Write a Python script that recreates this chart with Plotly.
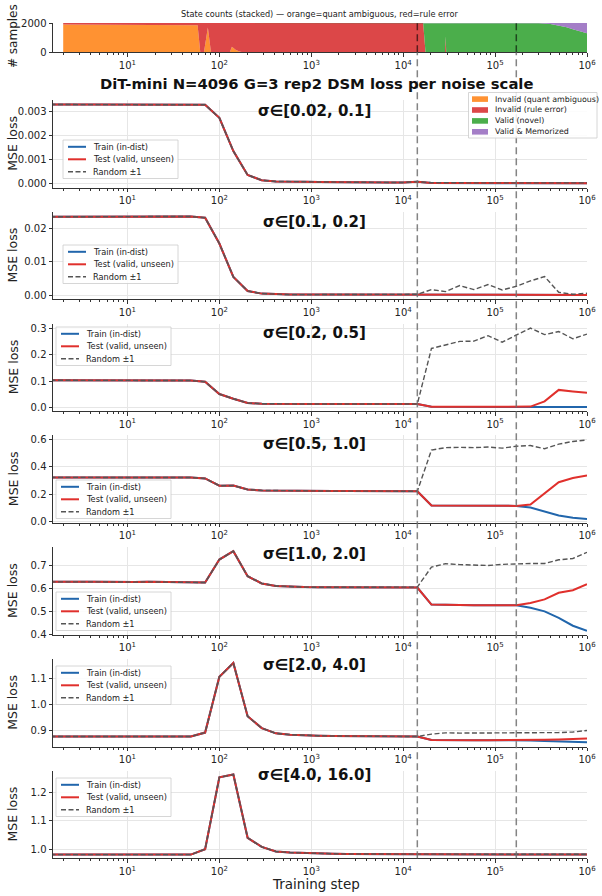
import plotly.graph_objects as go

W, H = 602, 896

# ---------------- data ----------------
steps = [1, 1.4, 2, 2.9, 4.1, 5.9, 8.4, 12, 17, 24, 35, 49, 70, 100, 142, 203, 289, 412, 588, 838,
         1194, 1701, 2424, 3455, 4924, 7017, 10000, 14251, 20309, 28943, 41246, 58780, 83768,
         119378, 170125, 242446, 345511, 492388, 701704, 1000000]

p1_train = [0.00329, 0.00328, 0.00328, 0.00328, 0.00328, 0.00328, 0.00328, 0.00328, 0.00328, 0.00328,
            0.00328, 0.00328, 0.00327, 0.00273, 0.00135, 0.00036, 0.00014, 0.00009, 0.00010, 0.00008,
            0.00007, 0.00006, 0.00006, 0.00005, 0.00005, 0.00005, 0.00005, 0.00008, 0.00003, 0.00002,
            0.00002, 0.00002, 0.00002, 0.00002, 0.00002, 0.00002, 0.00002, 0.00002, 0.00002, 0.00002]
p1_test = [0.00329, 0.00328, 0.00328, 0.00328, 0.00328, 0.00328, 0.00328, 0.00328, 0.00328, 0.00328,
           0.00328, 0.00328, 0.00327, 0.00273, 0.00135, 0.00036, 0.00014, 0.00009, 0.00010, 0.00008,
           0.00007, 0.00006, 0.00006, 0.00005, 0.00005, 0.00005, 0.00005, 0.00008, 0.00003, 0.00003,
           0.00002, 0.00002, 0.00002, 0.00002, 0.00002, 0.00002, 0.00002, 0.00002, 0.00002, 0.00002]
p1_rand = [0.00329, 0.00328, 0.00328, 0.00328, 0.00328, 0.00328, 0.00328, 0.00328, 0.00328, 0.00328,
           0.00328, 0.00328, 0.00327, 0.00273, 0.00135, 0.00036, 0.00014, 0.00009, 0.00010, 0.00008,
           0.00007, 0.00006, 0.00006, 0.00005, 0.00005, 0.00005, 0.00005, 0.00008, 0.00004, 0.00003,
           0.00003, 0.00003, 0.00003, 0.00003, 0.00003, 0.00003, 0.00003, 0.00003, 0.00003, 0.00003]

p2_train = [0.0235, 0.0235, 0.0235, 0.0235, 0.0235, 0.0235, 0.0235, 0.0235, 0.0235, 0.0235,
            0.0236, 0.0236, 0.0232, 0.0155, 0.0055, 0.0013, 0.0005, 0.0003, 0.0002, 0.0002,
            0.0002, 0.0002, 0.0002, 0.0002, 0.0002, 0.0002, 0.0001, 0.0003, 0.0001, 0.0001,
            0.0001, 0.0001, 0.0001, 0.0001, 0.0001, 0.0001, 0.0001, 0.0001, 0.0001, 0.0001]
p2_test = [0.0235, 0.0235, 0.0235, 0.0235, 0.0235, 0.0235, 0.0235, 0.0235, 0.0235, 0.0235,
           0.0236, 0.0236, 0.0232, 0.0155, 0.0055, 0.0013, 0.0005, 0.0003, 0.0002, 0.0002,
           0.0002, 0.0002, 0.0002, 0.0002, 0.0002, 0.0002, 0.0001, 0.0003, 0.0001, 0.0001,
           0.0001, 0.0001, 0.0001, 0.0001, 0.0001, 0.0001, 0.0001, 0.0001, 0.0001, 0.0001]
p2_rand = [0.0235, 0.0235, 0.0235, 0.0235, 0.0235, 0.0235, 0.0235, 0.0235, 0.0235, 0.0235,
           0.0236, 0.0236, 0.0232, 0.0155, 0.0055, 0.0013, 0.0005, 0.0003, 0.0002, 0.0002,
           0.0002, 0.0002, 0.0002, 0.0002, 0.0002, 0.0002, 0.0001, 0.0003, 0.0017, 0.0011,
           0.0029, 0.0017, 0.0032, 0.0016, 0.0027, 0.0043, 0.0056, 0.0009, 0.0003, 0.0006]

p3_train = [0.103, 0.103, 0.103, 0.103, 0.103, 0.103, 0.103, 0.103, 0.103, 0.103,
            0.103, 0.102, 0.097, 0.050, 0.032, 0.016, 0.013, 0.012, 0.012, 0.012,
            0.012, 0.012, 0.012, 0.012, 0.012, 0.012, 0.012, 0.012, 0.001, 0.001,
            0.001, 0.001, 0.001, 0.001, 0.001, 0.001, 0.001, 0.0008, 0.0005, 0.0003]
p3_test = [0.103, 0.103, 0.103, 0.103, 0.103, 0.103, 0.103, 0.103, 0.103, 0.103,
           0.103, 0.102, 0.097, 0.050, 0.032, 0.016, 0.013, 0.012, 0.012, 0.012,
           0.012, 0.012, 0.012, 0.012, 0.012, 0.012, 0.012, 0.012, 0.001, 0.001,
           0.001, 0.001, 0.001, 0.001, 0.001, 0.002, 0.022, 0.066, 0.060, 0.055]
p3_rand = [0.103, 0.103, 0.103, 0.103, 0.103, 0.103, 0.103, 0.103, 0.103, 0.103,
           0.103, 0.102, 0.097, 0.050, 0.032, 0.016, 0.013, 0.012, 0.012, 0.012,
           0.012, 0.012, 0.012, 0.012, 0.012, 0.012, 0.012, 0.012, 0.225, 0.238,
           0.252, 0.253, 0.274, 0.249, 0.276, 0.303, 0.278, 0.290, 0.262, 0.280]

p4_train = [0.323, 0.323, 0.323, 0.323, 0.323, 0.323, 0.323, 0.323, 0.323, 0.323,
            0.323, 0.322, 0.315, 0.262, 0.263, 0.234, 0.228, 0.226, 0.225, 0.224,
            0.224, 0.223, 0.223, 0.223, 0.222, 0.222, 0.222, 0.222, 0.118, 0.117,
            0.117, 0.116, 0.116, 0.115, 0.115, 0.103, 0.072, 0.045, 0.028, 0.020]
p4_test = [0.323, 0.323, 0.323, 0.323, 0.323, 0.323, 0.323, 0.323, 0.323, 0.323,
           0.323, 0.322, 0.315, 0.262, 0.263, 0.234, 0.228, 0.226, 0.225, 0.224,
           0.224, 0.223, 0.223, 0.223, 0.222, 0.222, 0.222, 0.222, 0.118, 0.117,
           0.117, 0.116, 0.116, 0.115, 0.115, 0.125, 0.205, 0.288, 0.318, 0.336]
p4_rand = [0.323, 0.323, 0.323, 0.323, 0.323, 0.323, 0.323, 0.323, 0.323, 0.323,
           0.323, 0.322, 0.315, 0.262, 0.263, 0.234, 0.228, 0.226, 0.225, 0.224,
           0.224, 0.223, 0.223, 0.223, 0.222, 0.222, 0.222, 0.222, 0.522, 0.540,
           0.542, 0.540, 0.544, 0.536, 0.550, 0.555, 0.532, 0.565, 0.585, 0.596]

p5_train = [0.630, 0.629, 0.629, 0.630, 0.630, 0.629, 0.630, 0.629, 0.630, 0.630,
            0.629, 0.629, 0.627, 0.728, 0.765, 0.655, 0.623, 0.612, 0.608, 0.607,
            0.606, 0.606, 0.606, 0.605, 0.605, 0.605, 0.605, 0.605, 0.530, 0.528,
            0.527, 0.527, 0.527, 0.527, 0.527, 0.516, 0.500, 0.472, 0.437, 0.415]
p5_test = [0.630, 0.629, 0.629, 0.630, 0.630, 0.629, 0.630, 0.629, 0.630, 0.630,
           0.629, 0.629, 0.627, 0.728, 0.765, 0.655, 0.623, 0.612, 0.608, 0.607,
           0.606, 0.606, 0.606, 0.605, 0.605, 0.605, 0.605, 0.605, 0.530, 0.528,
           0.527, 0.527, 0.527, 0.527, 0.527, 0.537, 0.553, 0.582, 0.593, 0.620]
p5_rand = [0.630, 0.629, 0.629, 0.630, 0.630, 0.629, 0.630, 0.629, 0.630, 0.630,
           0.629, 0.629, 0.627, 0.728, 0.765, 0.655, 0.623, 0.612, 0.608, 0.607,
           0.606, 0.606, 0.606, 0.605, 0.605, 0.605, 0.605, 0.607, 0.695, 0.710,
           0.706, 0.705, 0.702, 0.707, 0.710, 0.711, 0.711, 0.727, 0.733, 0.760]

p6_train = [0.878, 0.878, 0.878, 0.878, 0.878, 0.878, 0.878, 0.878, 0.878, 0.878,
            0.878, 0.878, 0.893, 1.105, 1.158, 0.955, 0.910, 0.890, 0.885, 0.882,
            0.881, 0.880, 0.880, 0.879, 0.879, 0.878, 0.878, 0.878, 0.865, 0.864,
            0.864, 0.864, 0.864, 0.864, 0.865, 0.863, 0.861, 0.859, 0.857, 0.856]
p6_test = [0.878, 0.878, 0.878, 0.878, 0.878, 0.878, 0.878, 0.878, 0.878, 0.878,
           0.878, 0.878, 0.893, 1.105, 1.158, 0.955, 0.910, 0.890, 0.885, 0.882,
           0.881, 0.880, 0.880, 0.879, 0.879, 0.878, 0.878, 0.878, 0.865, 0.864,
           0.864, 0.864, 0.864, 0.864, 0.865, 0.865, 0.866, 0.867, 0.868, 0.870]
p6_rand = [0.878, 0.878, 0.878, 0.878, 0.878, 0.878, 0.878, 0.878, 0.878, 0.878,
           0.878, 0.878, 0.893, 1.105, 1.158, 0.955, 0.910, 0.890, 0.885, 0.882,
           0.881, 0.880, 0.880, 0.879, 0.879, 0.878, 0.878, 0.878, 0.887, 0.892,
           0.891, 0.891, 0.892, 0.892, 0.892, 0.892, 0.892, 0.893, 0.895, 0.901]

p7_train = [0.981, 0.981, 0.981, 0.981, 0.981, 0.981, 0.981, 0.981, 0.981, 0.981,
            0.981, 0.981, 1.000, 1.252, 1.262, 1.040, 1.008, 0.992, 0.988, 0.986,
            0.985, 0.984, 0.983, 0.983, 0.982, 0.982, 0.982, 0.982, 0.981, 0.981,
            0.981, 0.981, 0.981, 0.981, 0.981, 0.981, 0.981, 0.981, 0.981, 0.981]
p7_test = [0.981, 0.981, 0.981, 0.981, 0.981, 0.981, 0.981, 0.981, 0.981, 0.981,
           0.981, 0.981, 1.000, 1.252, 1.262, 1.040, 1.008, 0.992, 0.988, 0.986,
           0.985, 0.984, 0.983, 0.983, 0.982, 0.982, 0.982, 0.982, 0.981, 0.981,
           0.981, 0.981, 0.981, 0.981, 0.981, 0.981, 0.981, 0.981, 0.981, 0.981]
p7_rand = [0.981, 0.981, 0.981, 0.981, 0.981, 0.981, 0.981, 0.981, 0.981, 0.981,
           0.981, 0.981, 1.000, 1.252, 1.262, 1.040, 1.008, 0.992, 0.988, 0.986,
           0.985, 0.984, 0.983, 0.983, 0.982, 0.982, 0.982, 0.982, 0.982, 0.982,
           0.982, 0.982, 0.982, 0.982, 0.982, 0.982, 0.982, 0.982, 0.982, 0.982]

# stacked state counts (top strip)
state_steps = [2, 4, 5, 8, 11, 17, 24, 34, 49, 58, 62, 68, 75, 81, 100, 130, 137, 150, 165, 180,
               203, 289, 412, 1000, 5000, 10000, 14251, 16500, 17500, 20309, 28500, 28943, 29400,
               41246, 83768, 170125, 242446, 300000, 400000, 500000, 600000, 700000, 800000,
               900000, 1000000]
state_orange = [1890, 1890, 1890, 1888, 1885, 1882, 1880, 1875, 1865, 1840, 0, 0, 1700, 0, 0, 0,
                380, 180, 60, 0, 0, 0, 0, 0, 0, 0, 0, 0, 0, 0, 0, 0, 0, 0, 0, 0, 0, 0, 0, 0,
                0, 0, 0, 0, 0]
state_red = [110, 110, 110, 112, 115, 118, 120, 125, 135, 160, 2000, 2000, 300, 2000, 2000, 2000,
             1620, 1820, 1940, 2000, 2000, 2000, 2000, 2000, 2000, 2000, 2000, 2000, 0, 0, 0,
             1100, 0, 0, 0, 0, 0, 0, 0, 0, 0, 0, 0, 0, 0]
state_green = [0, 0, 0, 0, 0, 0, 0, 0, 0, 0, 0, 0, 0, 0, 0, 0, 0, 0, 0, 0, 0, 0, 0, 0, 0, 0, 0, 0,
               2000, 2000, 2000, 900, 2000, 2000, 2000, 2000, 2000, 1990, 1940, 1840, 1710, 1580,
               1470, 1380, 1300]
state_purple = [0, 0, 0, 0, 0, 0, 0, 0, 0, 0, 0, 0, 0, 0, 0, 0, 0, 0, 0, 0, 0, 0, 0, 0, 0, 0, 0, 0,
                0, 0, 0, 0, 0, 0, 0, 0, 0, 10, 60, 160, 290, 420, 530, 620, 700]
state_names = ["Invalid (quant ambiguous)", "Invalid (rule error)", "Valid (novel)", "Valid & Memorized"]

marker_steps = [14251, 170125]

panel_titles = ["σ∈[0.02, 0.1]", "σ∈[0.1, 0.2]", "σ∈[0.2, 0.5]", "σ∈[0.5, 1.0]",
                "σ∈[1.0, 2.0]", "σ∈[2.0, 4.0]", "σ∈[4.0, 16.0]"]
series_names = ["Train (in-dist)", "Test (valid, unseen)", "Random ±1"]

x_tick_vals = [10, 100, 1000, 10000, 100000, 1000000]
x_tick_text = ["10<sup>1</sup>", "10<sup>2</sup>", "10<sup>3</sup>", "10<sup>4</sup>",
               "10<sup>5</sup>", "10<sup>6</sup>"]
y_tick_vals = [[0, 0.001, 0.002, 0.003], [0, 0.01, 0.02], [0, 0.1, 0.2, 0.3],
               [0, 0.2, 0.4, 0.6], [0.4, 0.5, 0.6, 0.7], [0.9, 1.0, 1.1], [1.0, 1.1, 1.2]]
y_tick_fmt = [".3f", ".2f", ".1f", ".1f", ".1f", ".1f", ".1f"]

panels = [(p1_train, p1_test, p1_rand), (p2_train, p2_test, p2_rand), (p3_train, p3_test, p3_rand),
          (p4_train, p4_test, p4_rand), (p5_train, p5_test, p5_rand), (p6_train, p6_test, p6_rand),
          (p7_train, p7_test, p7_rand)]
for tr in panels:
    for s in tr:
        assert len(s) == len(steps)
for s in (state_orange, state_red, state_green, state_purple):
    assert len(s) == len(state_steps)

# ---------------- styling / layout ----------------
FONT = "DejaVu Sans"
BLUE = "#2166ac"
RED = "#e0302c"
GRAY = "#555555"
STATE_COLORS = ["rgba(255,127,14,0.85)", "rgba(214,39,40,0.85)", "rgba(44,160,44,0.85)",
                "rgba(148,103,189,0.85)"]
y_ranges = [[-0.00016, 0.00347], [-0.0012, 0.0250], [-0.0153, 0.3203], [-0.009, 0.629],
            [0.3975, 0.7825], [0.840, 1.173], [0.968, 1.275]]

def PX(p):
    return p / W

def PY(p):
    return 1 - p / H

LX0, LX1 = 53, 587           # panel x extent (px), shared by all panels
TOP_Y0, TOP_Y1 = 23, 52.3    # top strip y extent (px)
panel_tops = [100, 211.8, 323.6, 435.4, 547.2, 659, 770.8]
PANEL_H = 87.5
title_px = [111, 222, 333, 443.5, 553.5, 665, 775]
legend_left = [63, 63, 56, 56, 56, 56, 56]
legend_top = [140, 245, 327, 480, 592, 666, 778]
X_RANGE = [0.19, 6]

fig = go.Figure()

for name, vals, col in zip(state_names, [state_orange, state_red, state_green, state_purple], STATE_COLORS):
    fig.add_trace(go.Scatter(x=state_steps, y=vals, name=name, stackgroup="s", mode="lines",
                             line=dict(width=0), fillcolor=col, showlegend=False,
                             xaxis="x", yaxis="y"))

for i, (tr, te, rd) in enumerate(panels):
    n = str(i + 2)
    fig.add_trace(go.Scatter(x=steps, y=tr, name=series_names[0], mode="lines",
                             line=dict(color=BLUE, width=2), showlegend=False,
                             xaxis="x" + n, yaxis="y" + n))
    fig.add_trace(go.Scatter(x=steps, y=te, name=series_names[1], mode="lines",
                             line=dict(color=RED, width=2), showlegend=False,
                             xaxis="x" + n, yaxis="y" + n))
    fig.add_trace(go.Scatter(x=steps, y=rd, name=series_names[2], mode="lines",
                             line=dict(color=GRAY, width=1.4, dash="5px,2.5px"), showlegend=False,
                             xaxis="x" + n, yaxis="y" + n))

minor_vals = [k * 10 ** e for e in range(0, 6) for k in range(2, 10)]
common_x = dict(type="log", range=X_RANGE, tickmode="array", tickvals=x_tick_vals, ticktext=x_tick_text,
                ticks="outside", ticklen=3.5, tickwidth=0.9, tickcolor="#333",
                showline=True, linecolor="#333", linewidth=1, zeroline=False, automargin=False,
                tickfont=dict(size=10, color="#222", family=FONT),
                minor=dict(tickmode="array", tickvals=minor_vals, ticks="outside", ticklen=2,
                           tickwidth=0.6, tickcolor="#333", showgrid=False))
common_y = dict(ticks="outside", ticklen=3.5, tickwidth=0.9, tickcolor="#333",
                showline=True, linecolor="#333", linewidth=1, zeroline=False, automargin=False,
                tickfont=dict(size=10, color="#222", family=FONT))

layout = dict(width=W, height=H, margin=dict(l=0, r=0, t=0, b=0, pad=0, autoexpand=False),
              paper_bgcolor="white", plot_bgcolor="white", showlegend=False,
              font=dict(family=FONT, size=10, color="#222"))
layout["xaxis"] = dict(common_x, domain=[PX(LX0), PX(LX1)], anchor="y", showgrid=False)
layout["yaxis"] = dict(common_y, domain=[PY(TOP_Y1), PY(TOP_Y0)], anchor="x", range=[0, 2000],
                       tickmode="array", tickvals=[0, 2000], showgrid=False)
for i in range(7):
    n = str(i + 2)
    top = panel_tops[i]
    layout["xaxis" + n] = dict(common_x, domain=[PX(LX0), PX(LX1)], anchor="y" + n,
                               showgrid=True, gridcolor="#e6e6e6", gridwidth=0.8)
    layout["yaxis" + n] = dict(common_y, domain=[PY(top + PANEL_H), PY(top)], anchor="x" + n,
                               range=y_ranges[i], tickmode="array", tickvals=y_tick_vals[i],
                               tickformat=y_tick_fmt[i], showgrid=True, gridcolor="#e6e6e6",
                               gridwidth=0.8)

shapes = []
annotations = []

# vertical dashed markers
for m in marker_steps:
    shapes.append(dict(type="line", xref="x", yref="paper", x0=m, x1=m, y0=PY(TOP_Y1), y1=PY(TOP_Y0),
                       line=dict(color="rgba(0,0,0,0.6)", width=1.5, dash="7px,4px"), layer="above"))
    shapes.append(dict(type="line", xref="x2", yref="paper", x0=m, x1=m,
                       y0=PY(panel_tops[-1] + PANEL_H), y1=PY(TOP_Y1),
                       line=dict(color="rgba(110,110,110,0.85)", width=1.5, dash="7px,4px"),
                       layer="above"))

# panel legends
LEG_W = 115
ROW = 12.5
styles = [dict(color=BLUE, width=2), dict(color=RED, width=2),
          dict(color=GRAY, width=1.4, dash="5px,2.5px")]
for i in range(7):
    L, T = legend_left[i], legend_top[i]
    shapes.append(dict(type="rect", xref="paper", yref="paper", x0=PX(L), x1=PX(L + LEG_W),
                       y0=PY(T + 38.5), y1=PY(T), fillcolor="rgba(255,255,255,0.85)",
                       line=dict(color="#cccccc", width=0.8), layer="above"))
    for j in range(3):
        yy = T + 6.8 + ROW * j
        shapes.append(dict(type="line", xref="paper", yref="paper", x0=PX(L + 5), x1=PX(L + 23),
                           y0=PY(yy), y1=PY(yy), line=styles[j], layer="above"))
        annotations.append(dict(text=series_names[j], xref="paper", yref="paper", x=PX(L + 28),
                                y=PY(yy), xanchor="left", yanchor="middle", showarrow=False,
                                font=dict(size=8.2, color="#222", family=FONT)))

# state legend (top right)
SL, ST, SR, SB = 468.5, 92.5, 597, 138
shapes.append(dict(type="rect", xref="paper", yref="paper", x0=PX(SL), x1=PX(SR), y0=PY(SB), y1=PY(ST),
                   fillcolor="rgba(255,255,255,0.85)", line=dict(color="#cccccc", width=0.8),
                   layer="above"))
for j, (name, col) in enumerate(zip(state_names, STATE_COLORS)):
    yy = ST + 6.6 + 10.9 * j
    shapes.append(dict(type="rect", xref="paper", yref="paper", x0=PX(SL + 3.5), x1=PX(SL + 19.5),
                       y0=PY(yy + 2.8), y1=PY(yy - 2.8), fillcolor=col, line=dict(width=0),
                       layer="above"))
    annotations.append(dict(text=name, xref="paper", yref="paper", x=PX(SL + 24.5), y=PY(yy),
                            xanchor="left", yanchor="middle", showarrow=False,
                            font=dict(size=7.9, color="#222", family=FONT)))

# titles and axis labels
annotations.append(dict(text="State counts (stacked) — orange=quant ambiguous, red=rule error",
                        xref="paper", yref="paper", x=PX((LX0 + LX1) / 2), y=PY(13.5),
                        xanchor="center", yanchor="middle", showarrow=False,
                        font=dict(size=8.2, color="#222", family=FONT)))
annotations.append(dict(text="<b>DiT-mini N=4096 G=3 rep2 DSM loss per noise scale</b>",
                        xref="paper", yref="paper", x=PX(316), y=PY(83.5), xanchor="center",
                        yanchor="middle", showarrow=False, font=dict(size=14.8, color="#111", family=FONT)))
annotations.append(dict(text="# samples", xref="paper", yref="paper", x=PX(13), y=PY(36),
                        textangle=-90, xanchor="center", yanchor="middle", showarrow=False,
                        font=dict(size=12, color="#222", family=FONT)))
for i in range(7):
    top = panel_tops[i]
    annotations.append(dict(text="<b>" + panel_titles[i] + "</b>", xref="paper", yref="paper",
                            x=PX(314), y=PY(title_px[i]), xanchor="center",
                            yanchor="middle", showarrow=False,
                            font=dict(size=15, color="#111", family=FONT)))
    annotations.append(dict(text="MSE loss", xref="paper", yref="paper", x=PX(13),
                            y=PY(top + PANEL_H / 2), textangle=-90, xanchor="center",
                            yanchor="middle", showarrow=False,
                            font=dict(size=12.5, color="#222", family=FONT)))
annotations.append(dict(text="Training step", xref="paper", yref="paper", x=PX(316), y=PY(884),
                        xanchor="center", yanchor="middle", showarrow=False,
                        font=dict(size=13.5, color="#222", family=FONT)))

layout["shapes"] = shapes
layout["annotations"] = annotations
fig.update_layout(**layout)
fig.write_html("out.html")
